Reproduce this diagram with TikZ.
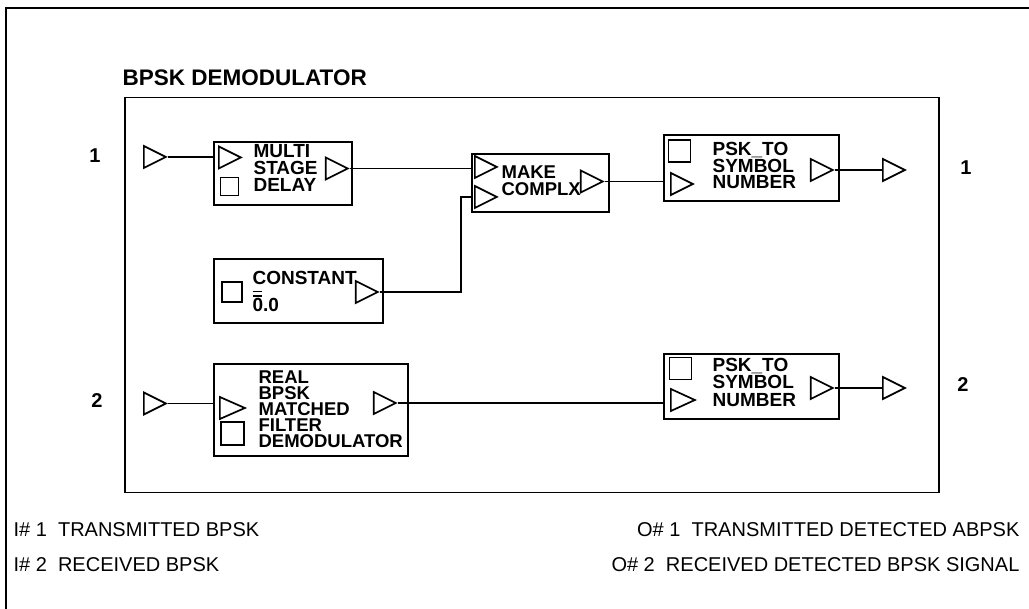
\documentclass[tikz,border=0pt]{standalone}
\usepackage{fontspec}
\setmainfont{Liberation Sans}
\usetikzlibrary{positioning, calc, shapes.geometric}
\lineskiplimit=-50pt

\begin{document}
\begin{tikzpicture}[x=1pt, y=-1pt, line width=1.2pt, every node/.style={font=\bfseries}]
    \tikzstyle{block} = [draw, rectangle, anchor=north west, inner sep=0pt, line width=1.6pt]
    \tikzstyle{tri} = [draw, isosceles triangle, isosceles triangle stretches, minimum width=22pt, minimum height=22pt, inner sep=0pt, line width=1.7pt]
    \tikzstyle{sq} = [draw, rectangle, minimum size=20pt, inner sep=0pt, line width=1.6pt]
    \tikzstyle{btext} = [anchor=north west, align=left, inner sep=0pt, font=\bfseries\fontsize{19}{17}\selectfont]
    \tikzstyle{portnum} = [inner sep=0pt, font=\bfseries\fontsize{20}{20}\selectfont]
    \tikzstyle{legend} = [inner sep=0pt, font=\fontsize{20}{20}\selectfont]
    \tikzstyle{wire} = [line width=1.3pt]

    \useasboundingbox (0,0) rectangle (1029,609);

    % Frame and title
    \draw [line width=1.5pt] (1029,8) -- (6,8) -- (6,609);
    \node (title) [anchor=west, inner sep=0pt, font=\bfseries\fontsize{22.5}{24}\selectfont] at (122,78) {BPSK DEMODULATOR};
    \node (sysbox) [block, line width=1.5pt, minimum width=814pt, minimum height=395pt] at (124,97) {};

    % Ports
    \node (in1) [tri, anchor=west] at (143,157) {};
    \node (in2) [tri, anchor=west] at (143,403.5) {};
    \node (out1) [tri, anchor=west] at (882,170) {};
    \node (out2) [tri, anchor=west] at (882,388) {};
    \node (nin1) [portnum] at (95,156) {1};
    \node (nin2) [portnum] at (97,401) {2};
    \node (nout1) [portnum] at (966,168) {1};
    \node (nout2) [portnum] at (963,385) {2};

    % Blocks
    \node (msd) [block, minimum width=138pt, minimum height=63pt] at (213,141) {};
    \node (msdin) [tri, anchor=west] at (218,157.5) {};
    \node (msdsq) [sq, minimum size=18pt] at (229.5,186.5) {};
    \node (msdout) [tri, anchor=east] at (350,168.5) {};
    \node (msdtxt) [btext] at (253,144) {MULTI\\STAGE\\DELAY};

    \node (mkc) [block, minimum width=137pt, minimum height=58pt] at (471,153) {};
    \node (mkcina) [tri, anchor=west] at (474,167) {};
    \node (mkcinb) [tri, anchor=west] at (474,197) {};
    \node (mkcout) [tri, anchor=east] at (605,181.5) {};
    \node (mkctxt) [btext, font=\bfseries\fontsize{18.5}{17}\selectfont] at (501,165) {MAKE\\COMPLX};

    \node (cst) [block, minimum width=169pt, minimum height=64pt] at (213,258) {};
    \node (cstsq) [sq] at (232,292) {};
    \node (cstout) [tri, anchor=east] at (380,292) {};
    \node (csttxt) [btext] at (252,271) {CONSTANT\\[10pt]\rlap{\raisebox{19.5pt}{\rule{9pt}{1.4pt}}}\rlap{\raisebox{15pt}{\rule{9pt}{1.4pt}}}0.0};

    \node (psk1) [block, minimum width=175pt, minimum height=66pt] at (663,134) {};
    \node (psk1sq) [sq, minimum size=22pt] at (679.5,151) {};
    \node (psk1in) [tri, anchor=west] at (670,184) {};
    \node (psk1out) [tri, anchor=east] at (835,170) {};
    \node (psk1txt) [btext, font=\bfseries\fontsize{19}{16.5}\selectfont] at (712,142) {PSK\_TO\\SYMBOL\\NUMBER};

    \node (rbm) [block, minimum width=194pt, minimum height=92pt] at (213,363) {};
    \node (rbmin) [tri, anchor=west, minimum height=25pt] at (219,408) {};
    \node (rbmsq) [sq, minimum size=23pt] at (232.5,433.5) {};
    \node (rbmout) [tri, anchor=east] at (398,403) {};
    \node (rbmtxt) [btext, font=\bfseries\fontsize{18.5}{16}\selectfont] at (258,370) {REAL\\BPSK\\MATCHED\\FILTER\\DEMODULATOR};

    \node (psk2) [block, minimum width=175pt, minimum height=65pt] at (663,353) {};
    \node (psk2sq) [sq, minimum size=22pt] at (680.5,368.5) {};
    \node (psk2in) [tri, anchor=west, minimum height=24pt] at (670,400) {};
    \node (psk2out) [tri, anchor=east] at (835,388) {};
    \node (psk2txt) [btext, font=\bfseries\fontsize{19}{17.5}\selectfont] at (712,357.5) {PSK\_TO\\SYMBOL\\NUMBER};

    % Wires
    \coordinate (jn) at (461,197);
    \draw [wire] (in1.east) -- (in1.east -| msd.west);
    \draw [wire] (msdout.east) -- (msdout.east -| mkc.west);
    \draw [wire] (cstout.east) -| (jn) -- (jn -| mkc.west);
    \draw [wire] (mkcout.east) -- (mkcout.east -| psk1.west);
    \draw [wire] (psk1out.east) -- (out1.west);
    \draw [wire] (in2.east) -- (in2.east -| rbm.west);
    \draw [wire] (rbmout.east) -- (rbmout.east -| psk2.west);
    \draw [wire] (psk2out.east) -- (out2.west);

    % Legend
    \node (lin1) [legend, anchor=west] at (13,530) {I\# 1\ \ TRANSMITTED BPSK};
    \node (lin2) [legend, anchor=west] at (13,565) {I\# 2\ \ RECEIVED BPSK};
    \node (lout1) [legend, anchor=east] at (1020,530) {O\# 1\ \ TRANSMITTED DETECTED ABPSK};
    \node (lout2) [legend, anchor=east] at (1020,565) {O\# 2\ \ RECEIVED DETECTED BPSK SIGNAL};
\end{tikzpicture}
\end{document}
